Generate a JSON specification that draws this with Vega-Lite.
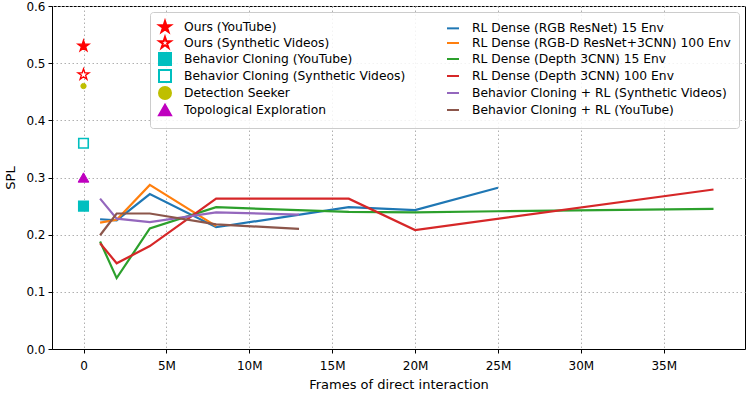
{
  "$schema": "https://vega.github.io/schema/vega-lite/v6.json",
  "width": 693,
  "height": 343,
  "autosize": "none",
  "padding": {"left": 52, "top": 6, "right": 2, "bottom": 47},
  "background": "white",
  "config": {
    "font": "DejaVu Sans",
    "view": {"stroke": "black", "strokeWidth": 1},
    "axis": {
      "labelFont": "DejaVu Sans", "labelFontSize": 12, "labelColor": "black",
      "titleFont": "DejaVu Sans", "titleFontSize": 13, "titleFontWeight": "normal", "titleColor": "black",
      "domainColor": "black", "tickColor": "black", "tickSize": 4, "labelPadding": 3,
      "gridColor": "#b0b0b0", "gridDash": [1.5, 2.5], "gridWidth": 1, "gridOpacity": 1
    },
    "legend": {
      "orient": "top-right", "offset": 6, "columns": 2,
      "symbolSize": 144, "symbolStrokeWidth": 2, "symbolOpacity": 1,
      "labelFont": "DejaVu Sans", "labelFontSize": 12.3, "labelColor": "black",
      "labelOffset": 12, "rowPadding": -3, "columnPadding": 37, "padding": 8,
      "fillColor": "rgba(255,255,255,0.85)", "strokeColor": "#cccccc", "cornerRadius": 3,
      "labelLimit": 400
    }
  },
  "data": {
    "values": [
      {"series": "Ours (YouTube)", "x": 0, "y": 0.53},
      {"series": "Ours (Synthetic Videos)", "x": 0, "y": 0.48},
      {"series": "Detection Seeker", "x": 0, "y": 0.46},
      {"series": "Behavior Cloning (Synthetic Videos)", "x": 0, "y": 0.36},
      {"series": "Topological Exploration", "x": 0, "y": 0.30},
      {"series": "Behavior Cloning (YouTube)", "x": 0, "y": 0.25},
      {"series": "RL Dense (RGB ResNet) 15 Env", "x": 1, "y": 0.227},
      {"series": "RL Dense (RGB ResNet) 15 Env", "x": 2, "y": 0.225},
      {"series": "RL Dense (RGB ResNet) 15 Env", "x": 4, "y": 0.271},
      {"series": "RL Dense (RGB ResNet) 15 Env", "x": 8, "y": 0.213},
      {"series": "RL Dense (RGB ResNet) 15 Env", "x": 16, "y": 0.248},
      {"series": "RL Dense (RGB ResNet) 15 Env", "x": 20, "y": 0.243},
      {"series": "RL Dense (RGB ResNet) 15 Env", "x": 25, "y": 0.282},
      {"series": "RL Dense (RGB-D ResNet+3CNN) 100 Env", "x": 1, "y": 0.221},
      {"series": "RL Dense (RGB-D ResNet+3CNN) 100 Env", "x": 2, "y": 0.226},
      {"series": "RL Dense (RGB-D ResNet+3CNN) 100 Env", "x": 4, "y": 0.287},
      {"series": "RL Dense (RGB-D ResNet+3CNN) 100 Env", "x": 8, "y": 0.215},
      {"series": "RL Dense (Depth 3CNN) 15 Env", "x": 1, "y": 0.188},
      {"series": "RL Dense (Depth 3CNN) 15 Env", "x": 2, "y": 0.124},
      {"series": "RL Dense (Depth 3CNN) 15 Env", "x": 4, "y": 0.211},
      {"series": "RL Dense (Depth 3CNN) 15 Env", "x": 8, "y": 0.248},
      {"series": "RL Dense (Depth 3CNN) 15 Env", "x": 16, "y": 0.240},
      {"series": "RL Dense (Depth 3CNN) 15 Env", "x": 20, "y": 0.239},
      {"series": "RL Dense (Depth 3CNN) 15 Env", "x": 25, "y": 0.241},
      {"series": "RL Dense (Depth 3CNN) 15 Env", "x": 38, "y": 0.245},
      {"series": "RL Dense (Depth 3CNN) 100 Env", "x": 1, "y": 0.185},
      {"series": "RL Dense (Depth 3CNN) 100 Env", "x": 2, "y": 0.150},
      {"series": "RL Dense (Depth 3CNN) 100 Env", "x": 4, "y": 0.180},
      {"series": "RL Dense (Depth 3CNN) 100 Env", "x": 8, "y": 0.263},
      {"series": "RL Dense (Depth 3CNN) 100 Env", "x": 16, "y": 0.263},
      {"series": "RL Dense (Depth 3CNN) 100 Env", "x": 20, "y": 0.208},
      {"series": "RL Dense (Depth 3CNN) 100 Env", "x": 38, "y": 0.279},
      {"series": "Behavior Cloning + RL (Synthetic Videos)", "x": 1, "y": 0.263},
      {"series": "Behavior Cloning + RL (Synthetic Videos)", "x": 2, "y": 0.228},
      {"series": "Behavior Cloning + RL (Synthetic Videos)", "x": 4, "y": 0.222},
      {"series": "Behavior Cloning + RL (Synthetic Videos)", "x": 8, "y": 0.239},
      {"series": "Behavior Cloning + RL (Synthetic Videos)", "x": 13, "y": 0.235},
      {"series": "Behavior Cloning + RL (YouTube)", "x": 1, "y": 0.199},
      {"series": "Behavior Cloning + RL (YouTube)", "x": 2, "y": 0.237},
      {"series": "Behavior Cloning + RL (YouTube)", "x": 4, "y": 0.237},
      {"series": "Behavior Cloning + RL (YouTube)", "x": 8, "y": 0.218},
      {"series": "Behavior Cloning + RL (YouTube)", "x": 13, "y": 0.210}
    ]
  },
  "encoding": {
    "x": {
      "field": "x", "type": "quantitative",
      "scale": {"domain": [-1.9, 39.9], "nice": false, "zero": false},
      "axis": {"title": "Frames of direct interaction", "values": [0, 5, 10, 15, 20, 25, 30, 35],
               "labelExpr": "datum.value == 0 ? '0' : datum.value + 'M'", "labelPadding": 7, "titlePadding": 7, "labelFlush": false}
    },
    "y": {
      "field": "y", "type": "quantitative",
      "scale": {"domain": [0, 0.6], "nice": false, "zero": true},
      "axis": {"title": "SPL", "values": [0, 0.1, 0.2, 0.3, 0.4, 0.5, 0.6], "format": ".1f", "titlePadding": 8, "labelFlush": false}
    },
    "stroke": {
      "field": "series", "type": "nominal", "legend": {"title": null},
      "scale": {
        "domain": [
          "Ours (YouTube)", "Ours (Synthetic Videos)", "Behavior Cloning (YouTube)",
          "Behavior Cloning (Synthetic Videos)", "Detection Seeker", "Topological Exploration",
          "RL Dense (RGB ResNet) 15 Env", "RL Dense (RGB-D ResNet+3CNN) 100 Env",
          "RL Dense (Depth 3CNN) 15 Env", "RL Dense (Depth 3CNN) 100 Env",
          "Behavior Cloning + RL (Synthetic Videos)", "Behavior Cloning + RL (YouTube)"
        ],
        "range": ["#ff0000", "#ff0000", "#00bfbf", "#00bfbf", "#bfbf00", "#bf00bf", "#1f77b4", "#ff7f0e", "#2ca02c", "#d62728", "#9467bd", "#8c564b"]
      }
    }
  },
  "layer": [
    {
      "transform": [{"filter": "datum.x > 0"}],
      "mark": {"type": "line", "strokeWidth": 2.2, "clip": true}
    },
    {
      "transform": [{"filter": "indexof(datum.series, 'Ours') >= 0"}],
      "mark": {"type": "point", "opacity": 1, "strokeWidth": 1.3, "size": 135},
      "encoding": {
        "fill": {
          "field": "series", "type": "nominal", "legend": {"title": null},
          "scale": {
            "domain": [
              "Ours (YouTube)", "Ours (Synthetic Videos)", "Behavior Cloning (YouTube)",
              "Behavior Cloning (Synthetic Videos)", "Detection Seeker", "Topological Exploration",
              "RL Dense (RGB ResNet) 15 Env", "RL Dense (RGB-D ResNet+3CNN) 100 Env",
              "RL Dense (Depth 3CNN) 15 Env", "RL Dense (Depth 3CNN) 100 Env",
              "Behavior Cloning + RL (Synthetic Videos)", "Behavior Cloning + RL (YouTube)"
            ],
            "range": ["#ff0000", "#ffffff", "#00bfbf", "#ffffff", "#bfbf00", "#bf00bf", "transparent", "transparent", "transparent", "transparent", "transparent", "transparent"]
          }
        },
        "shape": {
          "field": "series", "type": "nominal", "legend": {"title": null},
          "scale": {
            "domain": [
              "Ours (YouTube)", "Ours (Synthetic Videos)", "Behavior Cloning (YouTube)",
              "Behavior Cloning (Synthetic Videos)", "Detection Seeker", "Topological Exploration",
              "RL Dense (RGB ResNet) 15 Env", "RL Dense (RGB-D ResNet+3CNN) 100 Env",
              "RL Dense (Depth 3CNN) 15 Env", "RL Dense (Depth 3CNN) 100 Env",
              "Behavior Cloning + RL (Synthetic Videos)", "Behavior Cloning + RL (YouTube)"
            ],
            "range": [
              "M0,-1L0.2245,-0.309L0.951,-0.309L0.363,0.118L0.588,0.809L0,0.382L-0.588,0.809L-0.363,0.118L-0.951,-0.309L-0.2245,-0.309Z",
              "M0,-1L0.2245,-0.309L0.951,-0.309L0.363,0.118L0.588,0.809L0,0.382L-0.588,0.809L-0.363,0.118L-0.951,-0.309L-0.2245,-0.309Z",
              "square", "square", "circle", "triangle-up",
              "stroke", "stroke", "stroke", "stroke", "stroke", "stroke"
            ]
          }
        }
      }
    },
    {
      "transform": [{"filter": "datum.series == 'Behavior Cloning (YouTube)' || datum.series == 'Behavior Cloning (Synthetic Videos)'"}],
      "mark": {"type": "point", "opacity": 1, "strokeWidth": 1.6, "size": 90},
      "encoding": {
        "fill": {"field": "series", "type": "nominal", "legend": {"title": null}},
        "shape": {"field": "series", "type": "nominal", "legend": {"title": null}}
      }
    },
    {
      "transform": [{"filter": "datum.series == 'Detection Seeker'"}],
      "mark": {"type": "point", "opacity": 1, "strokeWidth": 1, "size": 28},
      "encoding": {
        "fill": {"field": "series", "type": "nominal", "legend": {"title": null}},
        "shape": {"field": "series", "type": "nominal", "legend": {"title": null}}
      }
    },
    {
      "transform": [{"filter": "datum.series == 'Topological Exploration'"}],
      "mark": {"type": "point", "opacity": 1, "strokeWidth": 1, "size": 115},
      "encoding": {
        "fill": {"field": "series", "type": "nominal", "legend": {"title": null}},
        "shape": {"field": "series", "type": "nominal", "legend": {"title": null}}
      }
    }
  ]
}
